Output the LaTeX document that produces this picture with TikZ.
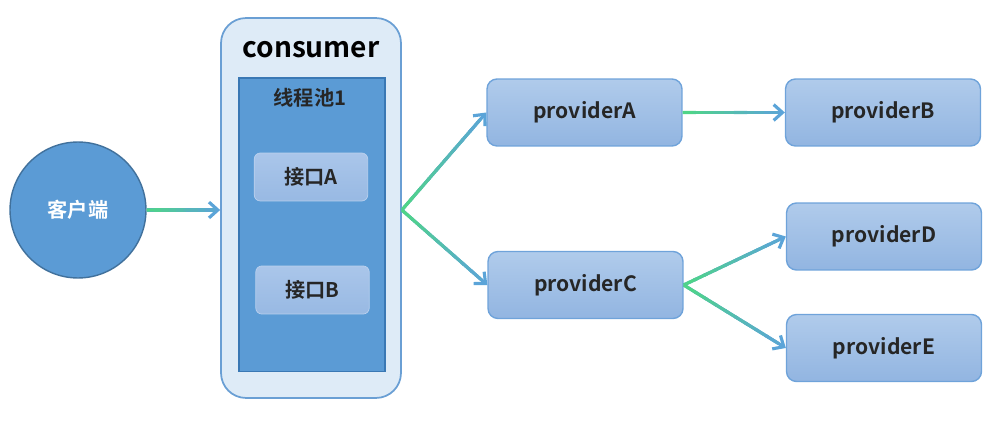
\documentclass[tikz,border=0pt]{standalone}
\usepackage{fontspec}
\setmainfont{Noto Sans CJK SC}[BoldFont={Noto Sans CJK SC Bold}]
\usepackage{tikz}
\usetikzlibrary{arrows.meta,calc}
\definecolor{clientblue}{HTML}{5B9BD5}
\definecolor{clientedge}{HTML}{41719C}
\definecolor{consumerfill}{HTML}{DEEBF7}
\definecolor{consumeredge}{HTML}{6A9FD4}
\definecolor{poolfill}{HTML}{5B9BD5}
\definecolor{pooledge}{HTML}{3A78B4}
\definecolor{porttop}{HTML}{AAC6EA}
\definecolor{portbottom}{HTML}{98B9E3}
\definecolor{provtop}{HTML}{B0CBEB}
\definecolor{provbottom}{HTML}{92B5E1}
\definecolor{provedge}{HTML}{6FA3DA}
\definecolor{linkgreen}{HTML}{4FD488}
\definecolor{linkblue}{HTML}{5BA4D8}
\definecolor{labeldark}{HTML}{262626}

% gradient connector: green at the start, blue at the tip
\newcommand{\gradlink}[2]{%
  \draw[linkblue,line width=1.8pt,-{Straight Barb[length=5pt,width=9pt]}] (#1) -- (#2);
  \foreach \i in {1,...,9}{
    \pgfmathsetmacro{\mix}{100-(\i-1)*100/9}
    \colorlet{linkmix}{linkgreen!\mix!linkblue}
    \draw[linkmix,line width=1.8pt] ($(#1)!{(\i-1)/10}!(#2)$) -- ($(#1)!{(\i+0.3)/10}!(#2)$);
  }%
}

\tikzset{
  provbox/.style={draw=provedge,line width=0.8pt,rounded corners=0.2cm,
    top color=provtop,bottom color=provbottom,minimum width=3.9cm,
    minimum height=1.34cm,text=labeldark,font=\bfseries\fontsize{12}{14}\selectfont},
  portbox/.style={draw=porttop!80!white,line width=0.4pt,rounded corners=0.12cm,
    top color=porttop,bottom color=portbottom,minimum width=2.27cm,
    minimum height=0.96cm,text=labeldark,font=\bfseries\fontsize{11.5}{14}\selectfont}
}

\begin{document}
\begin{tikzpicture}[x=0.02cm,y=-0.02cm]
  \useasboundingbox (0,0) rectangle (1004,422);

  % Client
  \node[circle,draw=clientedge,line width=0.8pt,fill=clientblue,minimum size=2.72cm,
    text=white,font=\bfseries\fontsize{11.5}{14}\selectfont] (client) at (78,210) {客户端};

  % Consumer with its thread pool
  \node[draw=consumeredge,line width=1pt,fill=consumerfill,rounded corners=0.5cm,
    minimum width=3.6cm,minimum height=7.6cm] (consumer) at (311,208) {};
  \node[font=\bfseries\fontsize{16}{18}\selectfont,text=black] (consumertitle) at (311,50) {consumer};
  \node[draw=pooledge,line width=0.6pt,fill=poolfill,minimum width=2.92cm,
    minimum height=5.88cm] (pool) at (312,225) {};
  \node[font=\bfseries\fontsize{11.5}{14}\selectfont,text=labeldark] (pooltitle) at (310,98) {线程池1};
  \node[portbox] (portA) at (311,177) {接口A};
  \node[portbox] (portB) at (312.5,290) {接口B};
  \coordinate (consumerin) at (consumer.west |- client.east);
  \coordinate (consumerout) at (consumer.east |- client.east);

  % Providers
  \node[provbox] (provA) at (584.5,112.5) {providerA};
  \node[provbox] (provB) at (883,112.5) {providerB};
  \node[provbox] (provC) at (585.5,285) {providerC};
  \node[provbox] (provD) at (884,236.5) {providerD};
  \node[provbox] (provE) at (884,348) {providerE};

  % Calls
  \gradlink{client.east}{consumerin}
  \gradlink{consumerout}{provA.west}
  \gradlink{consumerout}{provC.west}
  \gradlink{provA.east}{provB.west}
  \gradlink{provC.east}{provD.west}
  \gradlink{provC.east}{provE.west}
\end{tikzpicture}
\end{document}
